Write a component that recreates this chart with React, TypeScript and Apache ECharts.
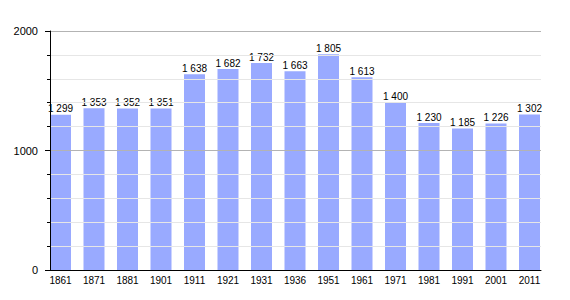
import React, { useEffect, useRef } from "react";
import * as echarts from "echarts";

const years = ["1861", "1871", "1881", "1901", "1911", "1921", "1931", "1936", "1951", "1961", "1971", "1981", "1991", "2001", "2011"];
const population = [1299, 1353, 1352, 1351, 1638, 1682, 1732, 1663, 1805, 1613, 1400, 1230, 1185, 1226, 1302];
const yTicks = { min: 0, max: 2000, interval: 1000 };

const fmt = (v: number) => {
  const s = String(v);
  return s.length > 3 ? s.slice(0, s.length - 3) + " " + s.slice(-3) : s;
};

export default function App() {
  const ref = useRef<HTMLDivElement>(null);
  useEffect(() => {
    document.body.style.margin = "0";
    const chart = echarts.init(ref.current!, undefined, { renderer: "svg" });
    const font = "'Liberation Sans', Arial, sans-serif";
    chart.setOption({
      animation: false,
      backgroundColor: "#ffffff",
      grid: [
        { left: 50, right: 29, top: 31, bottom: 30 },
        { left: 43.75, width: 502.5, top: 31, bottom: 30 },
      ],
      xAxis: [
        {
          gridIndex: 0,
          type: "value",
          min: 0,
          max: 1,
          axisLine: { show: true, onZero: false, lineStyle: { color: "#000", width: 1 } },
          axisTick: { show: false },
          axisLabel: { show: false },
          splitLine: { show: false },
          z: 5,
        },
        {
          gridIndex: 1,
          type: "category",
          data: years,
          axisLine: { show: false },
          axisTick: { show: false },
          axisLabel: { color: "#000", fontSize: 10, fontFamily: font, margin: 5, interval: 0 },
          splitLine: { show: false },
        },
      ],
      yAxis: [
        {
          gridIndex: 0,
          type: "value",
          min: yTicks.min,
          max: yTicks.max,
          interval: yTicks.interval,
          axisLine: { show: true, lineStyle: { color: "#000", width: 1 } },
          axisTick: { show: true, length: 5, lineStyle: { color: "#000" } },
          minorTick: { show: true, splitNumber: 5, length: 3, lineStyle: { color: "#000" } },
          axisLabel: { color: "#000", fontSize: 11, fontFamily: font, margin: 12, formatter: (v: number) => String(v) },
          splitLine: { show: true, lineStyle: { color: "#b3b3b3", width: 1 } },
          minorSplitLine: { show: true, lineStyle: { color: "#e6e6e6", width: 1 } },
          z: 5,
        },
        {
          gridIndex: 1,
          type: "value",
          min: yTicks.min,
          max: yTicks.max,
          show: false,
          splitLine: { show: false },
        },
      ],
      series: [
        {
          type: "bar",
          xAxisIndex: 1,
          yAxisIndex: 1,
          data: population,
          barWidth: 21,
          itemStyle: { color: "#99aaff" },
          label: {
            show: true,
            position: "top",
            distance: 1,
            color: "#000",
            fontSize: 10,
            fontFamily: font,
            formatter: (p: any) => fmt(p.value),
          },
        },
      ],
    });
    return () => chart.dispose();
  }, []);
  return <div ref={ref} style={{ width: 570, height: 300 }} />;
}
